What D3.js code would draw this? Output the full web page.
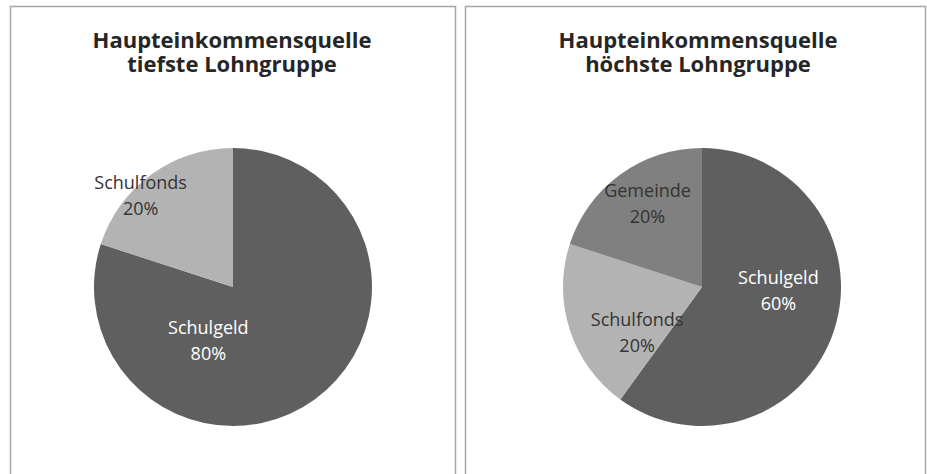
<!DOCTYPE html>
<html>
<head>
<meta charset="utf-8">
<script src="https://cdn.jsdelivr.net/npm/d3@7"></script>
<style>
  body { margin: 0; background: #fff; }
  svg { display: block; }
</style>
</head>
<body>
<script>
'use strict';

// data
var titles = [
  ['Haupteinkommensquelle', 'tiefste Lohngruppe'],
  ['Haupteinkommensquelle', 'höchste Lohngruppe']
];
var categoriesLow  = ['Schulgeld', 'Schulfonds'];
var valuesLow      = [80, 20];
var categoriesHigh = ['Schulgeld', 'Schulfonds', 'Gemeinde'];
var valuesHigh     = [60, 20, 20];

var colors = {Schulgeld: '#5f5f5f', Schulfonds: '#b3b3b3', Gemeinde: '#808080'};
var labelColors = {Schulgeld: '#ffffff', Schulfonds: '#333333', Gemeinde: '#333333'};

// label spots as [angle deg clockwise from top, fraction of radius] (excel best fit)
var labelSpots = [
  [[205, 0.42], [315, 0.94]],
  [[92, 0.55], [235, 0.57], [327, 0.72]]
];

var width = 927, height = 474;

var svg = d3.select('body').append('svg')
    .attr('width', width)
    .attr('height', height);

var panels = [
  {x: 10, w: 445, cx: 233, titleX: 232, cats: categoriesLow, vals: valuesLow},
  {x: 465, w: 460, cx: 702, titleX: 698, cats: categoriesHigh, vals: valuesHigh}
];

var radius = 139, cy = 287;

var pie = d3.pie().sort(null).value(function(d) { return d.value; });
var arc = d3.arc().innerRadius(0).outerRadius(radius);
var r = d3.scaleLinear().domain([0, 1]).range([0, radius]);

panels.forEach(function(p, i) {
  svg.append('rect')
      .attr('x', p.x + 0.5)
      .attr('y', 6.5)
      .attr('width', p.w)
      .attr('height', 500)
      .attr('fill', 'none')
      .attr('stroke', '#a6a6a6')
      .attr('stroke-width', 1.5);

  titles[i].forEach(function(t, j) {
    svg.append('text')
        .attr('x', p.titleX)
        .attr('y', 48 + j * 24)
        .attr('text-anchor', 'middle')
        .attr('font-family', 'Open Sans, sans-serif')
        .attr('font-weight', 'bold')
        .attr('font-size', 22)
        .attr('fill', '#262626')
        .text(t);
  });

  var data = p.cats.map(function(c, k) { return {name: c, value: p.vals[k]}; });
  var g = svg.append('g')
      .attr('transform', 'translate(' + p.cx + ',' + cy + ')');

  var arcs = pie(data);

  g.selectAll('path')
      .data(arcs)
    .enter().append('path')
      .attr('d', arc)
      .attr('fill', function(d) { return colors[d.data.name]; });

  var labels = g.selectAll('text')
      .data(arcs)
    .enter().append('text')
      .attr('transform', function(d, k) {
        var a = labelSpots[i][k][0] * Math.PI / 180,
            rr = r(labelSpots[i][k][1]);
        return 'translate(' + (rr * Math.sin(a)) + ',' + (-rr * Math.cos(a)) + ')';
      })
      .attr('text-anchor', 'middle')
      .attr('font-family', 'Open Sans, sans-serif')
      .attr('font-size', 18)
      .attr('fill', function(d) { return labelColors[d.data.name]; });
  labels.append('tspan')
      .attr('x', 0)
      .attr('y', -6)
      .text(function(d) { return d.data.name; });
  labels.append('tspan')
      .attr('x', 0)
      .attr('y', 20)
      .text(function(d) { return d.data.value + '%'; });
});
</script>
</body>
</html>
